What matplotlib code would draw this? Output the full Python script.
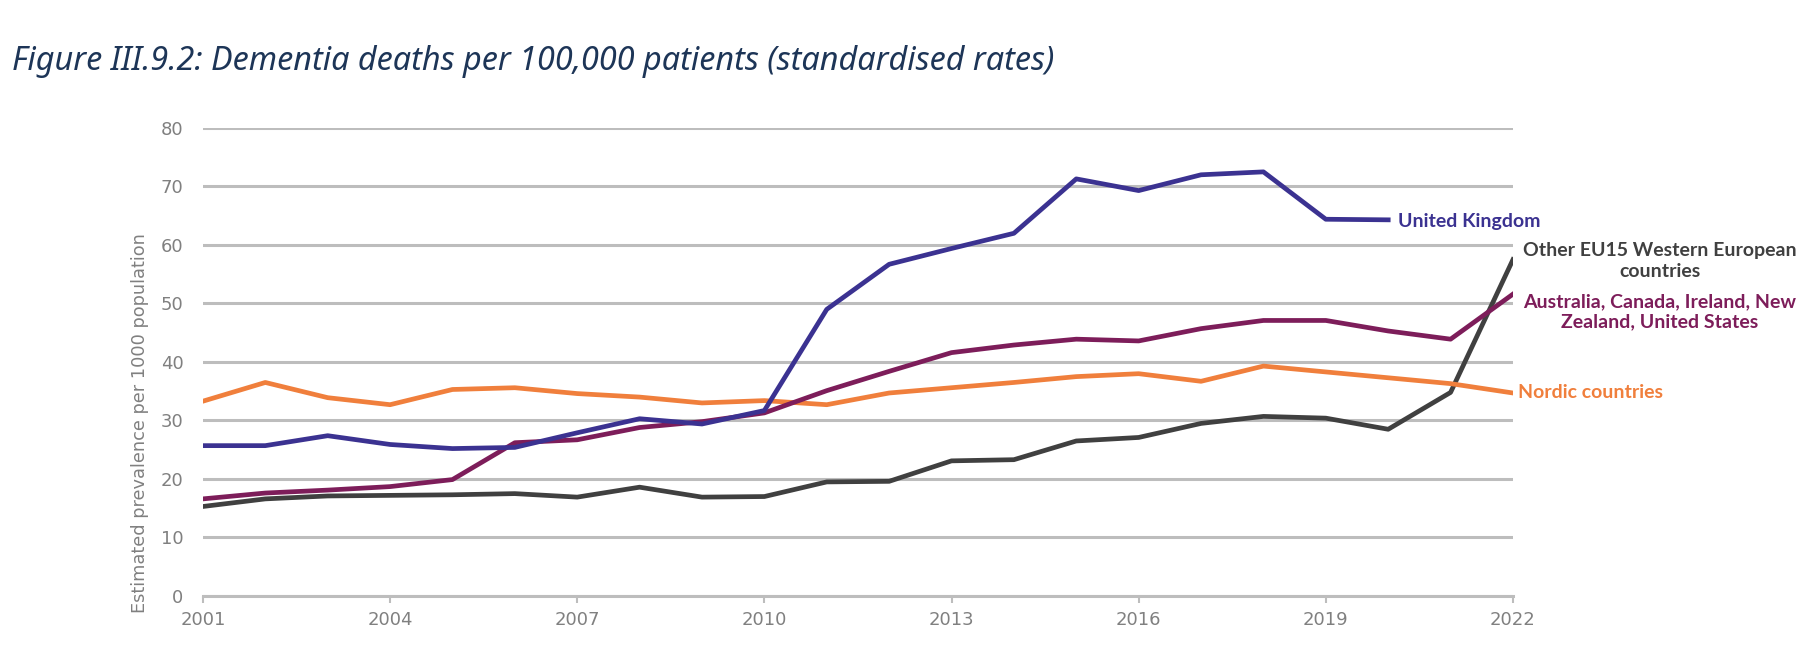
import matplotlib
matplotlib.use("Agg")
import matplotlib.pyplot as plt
import numpy as np

# data (standardised rates)
years = list(range(2001, 2023))
uk_years = list(range(2001, 2021))
uk = [25.7, 25.7, 27.4, 25.9, 25.2, 25.4, 27.9, 30.3, 29.4, 31.7,
      49.0, 56.7, 59.4, 62.0, 71.3, 69.3, 72.0, 72.5, 64.4, 64.3]
anglo = [16.6, 17.6, 18.1, 18.7, 19.9, 26.2, 26.7, 28.8, 29.8, 31.3,
         35.1, 38.4, 41.6, 42.9, 43.9, 43.6, 45.7, 47.1, 47.1, 45.3, 43.9, 51.6]
nordic = [33.3, 36.5, 33.9, 32.7, 35.3, 35.6, 34.6, 34.0, 33.0, 33.4,
          32.7, 34.7, 35.6, 36.5, 37.5, 38.0, 36.7, 39.3, 38.3, 37.3, 36.3, 34.7]
other_eu15 = [15.3, 16.6, 17.1, 17.2, 17.3, 17.5, 16.9, 18.6, 16.9, 17.0,
              19.5, 19.6, 23.1, 23.3, 26.5, 27.1, 29.5, 30.7, 30.4, 28.5, 34.8, 57.5]

xticks = list(range(2001, 2023, 3))
yticks = list(range(0, 81, 10))

c_uk = '#3b3291'
c_anglo = '#7d1d5a'
c_nordic = '#f07f3c'
c_other = '#404040'
c_grid = '#bdbdbd'
c_tick = '#808080'

fig = plt.figure(figsize=(18.2, 6.52), dpi=100)
ax = fig.add_axes([0.1115, 0.0859, 0.7198, 0.7178])

ax.plot(years, other_eu15, color=c_other, lw=3.4)
ax.plot(years, nordic, color=c_nordic, lw=3.4)
ax.plot(years, anglo, color=c_anglo, lw=3.4)
ax.plot(uk_years, uk, color=c_uk, lw=3.4)

ax.set_xlim(2001, 2022)
ax.set_ylim(0, 80)
ax.set_xticks(xticks)
ax.set_yticks(yticks)
ax.grid(axis='y', color=c_grid, lw=2.2, zorder=0)
ax.set_axisbelow(True)
for s in ['top', 'right', 'left']:
    ax.spines[s].set_visible(False)
ax.spines['bottom'].set_color(c_grid)
ax.spines['bottom'].set_linewidth(2.2)
ax.tick_params(axis='y', length=0, pad=14, labelsize=13, labelcolor=c_tick)
ax.tick_params(axis='x', length=5, width=1.5, color=c_grid, pad=6,
               labelsize=13, labelcolor=c_tick)
ax.set_ylabel('Estimated prevalence per 1000 population', fontsize=12.8,
              color=c_tick)
ax.yaxis.set_label_coords(-0.041, 0.37)

# series labels
lab = dict(fontsize=14, fontweight='bold', family='Lato', va='center')
fig.text(1398 / 1820, 1 - 222 / 652, 'United Kingdom', color=c_uk,
         ha='left', **lab)
fig.text(1660 / 1820, 1 - 261 / 652, 'Other EU15 Western European\ncountries',
         color=c_other, ha='center', linespacing=1.25, **lab)
fig.text(1660 / 1820, 1 - 312 / 652, 'Australia, Canada, Ireland, New\nZealand, United States',
         color=c_anglo, ha='center', linespacing=1.25, **lab)
fig.text(1518 / 1820, 1 - 393 / 652, 'Nordic countries', color=c_nordic,
         ha='left', **lab)

fig.text(12 / 1820, 1 - 61 / 652,
         'Figure III.9.2: Dementia deaths per 100,000 patients (standardised rates)',
         fontsize=23.3, style='italic', color='#1d3557', family='Noto Sans',
         va='center', ha='left')

fig.savefig('out.png', dpi=100, facecolor='white')
